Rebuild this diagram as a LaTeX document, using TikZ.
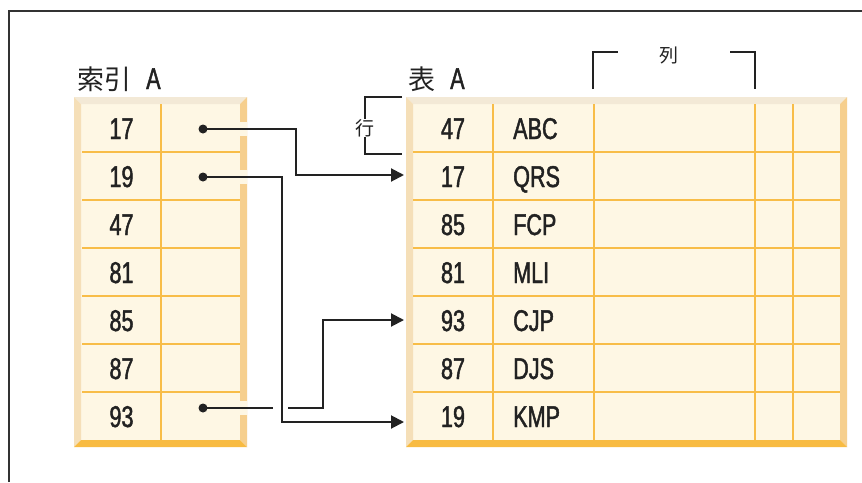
\documentclass[tikz,border=0pt]{standalone}
\usepackage{fontspec}
\setmainfont[FakeStretch=0.72,FakeBold=1.5]{Liberation Sans}
\newfontfamily\cjk{Noto Sans CJK JP}
\usetikzlibrary{arrows.meta}
\definecolor{cream}{HTML}{FEF7E4}
\definecolor{bevtop}{HTML}{F3E9D6}
\definecolor{bevleft}{HTML}{F5DFB8}
\definecolor{bevright}{HTML}{F6CF8E}
\definecolor{bevbot}{HTML}{F8BB42}
\definecolor{gridc}{HTML}{F8BD48}
\definecolor{ink}{HTML}{222222}
\definecolor{framec}{HTML}{333333}
\tikzset{
  num/.style={font=\fontsize{30}{30}\selectfont, inner sep=0pt, text=ink, anchor=base},
  word/.style={font=\fontsize{30}{30}\selectfont, inner sep=0pt, text=ink, anchor=base west},
  title/.style={inner sep=0pt, text=ink, anchor=base west},
  small/.style={font=\cjk\fontsize{19}{19}\selectfont, inner sep=0pt, text=ink},
  conn/.style={line width=2pt, draw=ink},
  tip/.style={-{Triangle[length=13pt,width=13pt]}},
  dotnode/.style={circle, fill=ink, inner sep=0pt, minimum size=9pt},
  gridline/.style={draw=gridc, line width=2pt},
  brk/.style={line width=1.8pt, draw=ink},
}
\newcommand{\bevelbox}[4]{% x0 y0 x1 y1 (outer)
  \fill[cream] (#1+7,#2+7) rectangle (#3-7,#4-7);
  \fill[bevtop] (#1,#2) -- (#3,#2) -- (#3-7,#2+7) -- (#1+7,#2+7) -- cycle;
  \fill[bevleft] (#1,#2) -- (#1+7,#2+7) -- (#1+7,#4-7) -- (#1,#4) -- cycle;
  \fill[bevright] (#3,#2) -- (#3,#4) -- (#3-7,#4-7) -- (#3-7,#2+7) -- cycle;
  \fill[bevbot] (#1,#4) -- (#3,#4) -- (#3-7,#4-7) -- (#1+7,#4-7) -- cycle;
}
\begin{document}
\begin{tikzpicture}[x=1pt,y=-1pt]
\useasboundingbox (0,0) rectangle (862,482);
\fill[white] (0,0) rectangle (862,482);
% frame
\draw[line width=2pt, draw=framec] (9,482) -- (9,11) -- (862,11);

% titles
\node[title] (tI) at (77,89) {{\cjk\fontsize{27}{27}\selectfont 索引}\hspace*{15pt}{\fontsize{30}{30}\selectfont A}};
\node[title] (tT) at (408,89) {{\cjk\fontsize{27}{27}\selectfont 表}\hspace*{15pt}{\fontsize{30}{30}\selectfont A}};

% index box
\bevelbox{74}{97}{247}{447}
\foreach \y in {152,200,...,392} \draw[gridline] (82,\y) -- (240,\y);
\draw[gridline] (161,104) -- (161,440);
% openings in right bevel
\fill[cream] (240,122) rectangle (247,136);
\fill[cream] (240,170) rectangle (247,184);
\fill[cream] (240,401) rectangle (247,415);

% table box
\bevelbox{406}{97}{847}{447}
\foreach \y in {152,200,...,392} \draw[gridline] (413,\y) -- (840,\y);
\foreach \x in {493,594,755,793} \draw[gridline] (\x,104) -- (\x,440);

% index values
\foreach \v [count=\i from 0] in {17,19,47,81,85,87,93}
  \node[num] (i\v) at (121.5,128+48*\i+11) {\v};

% table values
\foreach \v/\w [count=\i from 0] in {47/ABC,17/QRS,85/FCP,81/MLI,93/CJP,87/DJS,19/KMP}{
  \node[num] (t\v) at (453,128+48*\i+11) {\v};
  \node[word] (w\v) at (513,128+48*\i+11) {\w};
}

% row bracket
\node[small] (row) at (365,128) {行};
\draw[brk] (402,97) -- (365,97) -- (row.north);
\draw[brk] (row.south) -- (365,154) -- (402,154);
% column bracket
\node[small] (col) at (669,55) {列};
\draw[brk] (593,89) -- (593,52) -- (618,52);
\draw[brk] (730,52) -- (755,52) -- (755,89);

% pointers
\node[dotnode] (d17) at (203,129) {};
\node[dotnode] (d19) at (203,177) {};
\node[dotnode] (d93) at (203,408) {};
\coordinate (k1) at (296,0);
\coordinate (k2) at (282,0);
\coordinate (k3) at (323,0);
\coordinate (a17) at (404,175);
\coordinate (a19) at (404,422);
\coordinate (a93) at (404,320);
\coordinate (hopL) at (273,408);
\coordinate (hopR) at (288,408);
\draw[conn,tip] (d17.center) -| (k1 |- a17) -- (a17);
\draw[conn,tip] (d19.center) -| (k2 |- a19) -- (a19);
\draw[conn] (d93.center) -- (hopL);
\draw[conn,tip] (hopR) -| (k3 |- a93) -- (a93);
\end{tikzpicture}
\end{document}
